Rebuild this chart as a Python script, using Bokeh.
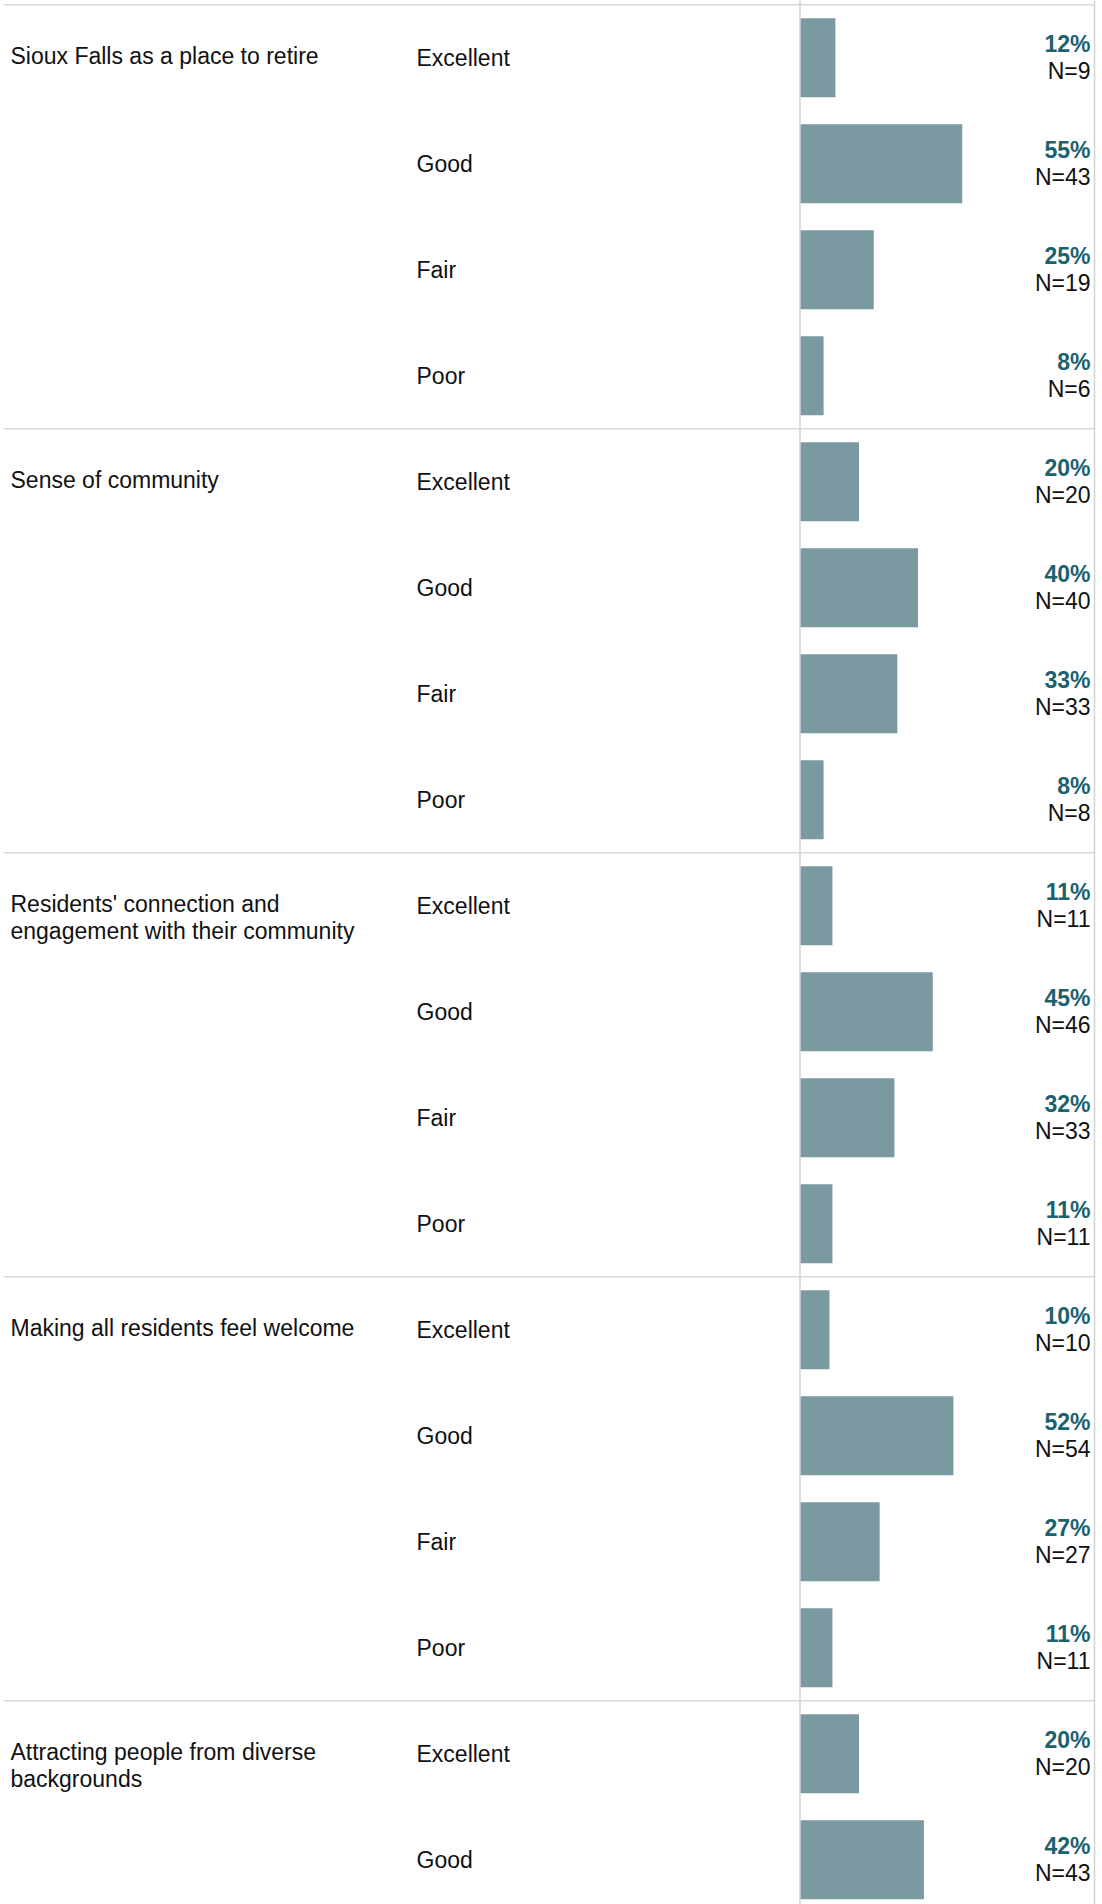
from bokeh.plotting import figure
from bokeh.models import Range1d, ColumnDataSource, Span
from bokeh.embed import file_html
from bokeh.resources import INLINE
from bokeh.core.properties import value

# ---------------- data ----------------
categories = [
    "Sioux Falls as a place to retire",
    "Sense of community",
    "Residents' connection and\nengagement with their community",
    "Making all residents feel welcome",
    "Attracting people from diverse\nbackgrounds",
]
ratings = ["Excellent", "Good", "Fair", "Poor"]
pct_retire = [12, 55, 25, 8]
pct_sense = [20, 40, 33, 8]
pct_connect = [11, 45, 32, 11]
pct_welcome = [10, 52, 27, 11]
pct_diverse = [20, 42]
n_retire = [9, 43, 19, 6]
n_sense = [20, 40, 33, 8]
n_connect = [11, 46, 33, 11]
n_welcome = [10, 54, 27, 11]
n_diverse = [20, 43]

percents = [pct_retire, pct_sense, pct_connect, pct_welcome, pct_diverse]
counts = [n_retire, n_sense, n_connect, n_welcome, n_diverse]

# ---------------- layout constants ----------------
W, H = 1096, 1904
ROW_PX = 106.0          # pixel height of one rating row
SX = 2.95               # pixels per percentage point
ZERO_PX = 799.5         # x pixel of the bar baseline
TOP_PX = 4.3            # y pixel of the first separator
RIGHT_PX = 1094.0       # x pixel of the right border
FONT = value("Liberation Sans")
FS = "23px"

def xpx(px):
    return (px - ZERO_PX) / SX

x_range = Range1d(xpx(0), xpx(W))
y_range = Range1d((H - TOP_PX) / ROW_PX, -TOP_PX / ROW_PX)

p = figure(width=W, height=H, x_range=x_range, y_range=y_range,
           output_backend="svg", toolbar_location=None,
           x_axis_type=None, y_axis_type=None, min_border=0)
p.outline_line_color = None
p.xgrid.visible = False
p.ygrid.visible = False
p.background_fill_color = "white"
p.border_fill_color = "white"

# ---------------- build table ----------------
yc, vals, pl, nl, rl = [], [], [], [], []
for s, (pv, nv) in enumerate(zip(percents, counts)):
    for j, (v, n) in enumerate(zip(pv, nv)):
        yc.append(s * 4 + j + 0.5)
        vals.append(v)
        pl.append(f"{v}%")
        nl.append(f"N={n}")
        rl.append(ratings[j])
src = ColumnDataSource(dict(y=yc, v=vals, pl=pl, nl=nl, rl=rl))

cy, ct = [], []
for s, cat in enumerate(categories):
    for k, line in enumerate(cat.split("\n")):
        cy.append(s * 4 + 0.5 + k * 26.8 / ROW_PX)
        ct.append(line)
cat_src = ColumnDataSource(dict(y=cy, t=ct))

sep_y = [s * 4 for s in range(len(categories))]

# separators
p.segment(x0=xpx(3), x1=xpx(RIGHT_PX), y0=sep_y, y1=sep_y,
          line_color="#d9d9d9", line_width=1.6)
# vertical lines
p.add_layout(Span(location=xpx(ZERO_PX), dimension="height",
                  line_color="#d3d3d3", line_width=1.5))
p.add_layout(Span(location=xpx(RIGHT_PX), dimension="height",
                  line_color="#d3d3d3", line_width=1.5))

# bars
p.hbar(y="y", left=0, right="v", height=0.745, source=src,
       fill_color="#7a99a1", line_color=None)

# texts
p.text(x=xpx(10), y="y", text="t", source=cat_src, text_font=FONT,
       text_font_size=FS, text_color="#111111", text_align="left",
       text_baseline="middle", y_offset=-1.5)
p.text(x=xpx(416), y="y", text="rl", source=src, text_font=FONT,
       text_font_size=FS, text_color="#111111", text_align="left",
       text_baseline="middle", y_offset=0)
p.text(x=xpx(RIGHT_PX - 4), y="y", text="pl", source=src, text_font=FONT,
       text_font_size=FS, text_font_style="bold", text_color="#1b6170",
       text_align="right", text_baseline="middle", y_offset=-13.5)
p.text(x=xpx(RIGHT_PX - 4), y="y", text="nl", source=src, text_font=FONT,
       text_font_size=FS, text_color="#111111", text_align="right",
       text_baseline="middle", y_offset=13)

open("out.html", "w").write(file_html(p, INLINE))
